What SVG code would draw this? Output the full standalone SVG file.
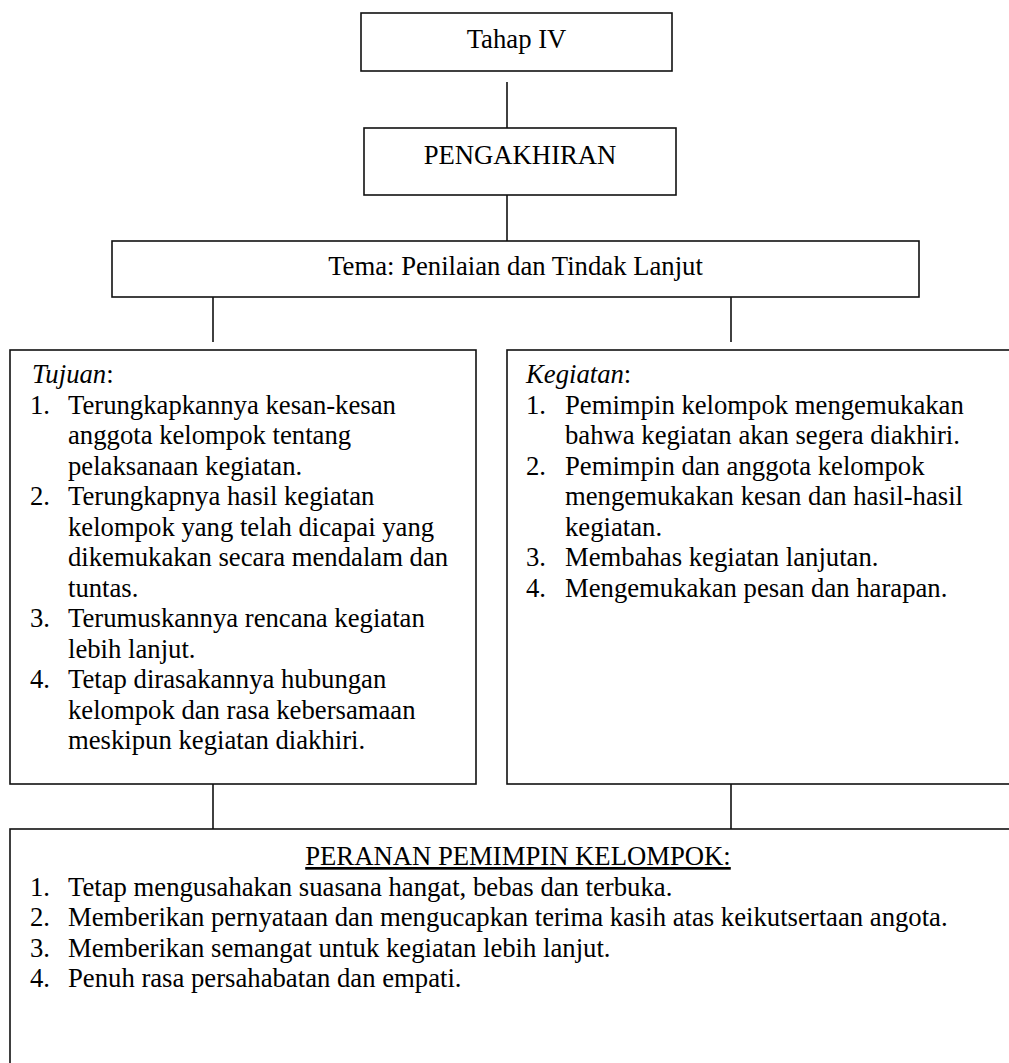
<svg xmlns="http://www.w3.org/2000/svg" width="1009" height="1063" viewBox="0 0 1009 1063">
<style>
.box{fill:#fff;stroke:#111;stroke-width:1.6}
.ln{stroke:#111;stroke-width:1.6;fill:none}
text{font-family:"Liberation Serif","Times New Roman",serif;font-size:26.7px;fill:#000}
.c{text-anchor:middle}
.i{font-style:italic}
</style>
<rect width="1009" height="1063" fill="#fff"/>
<g id="connectors">
<line class="ln" x1="507" y1="82" x2="507" y2="128"/>
<line class="ln" x1="507" y1="195" x2="507" y2="241"/>
<line class="ln" x1="213" y1="297" x2="213" y2="342"/>
<line class="ln" x1="731" y1="297" x2="731" y2="342"/>
<line class="ln" x1="213" y1="784" x2="213" y2="829"/>
<line class="ln" x1="731" y1="784" x2="731" y2="829"/>
</g>
<g id="tahap">
<rect class="box" x="361" y="13" width="311" height="58"/>
<text class="c" x="516.5" y="48">Tahap IV</text>
</g>
<g id="pengakhiran">
<rect class="box" x="364" y="128" width="312" height="67"/>
<text class="c" x="520" y="163.5">PENGAKHIRAN</text>
</g>
<g id="tema">
<rect class="box" x="112" y="241" width="807" height="56"/>
<text class="c" x="515.5" y="275">Tema: Penilaian dan Tindak Lanjut</text>
</g>
<g id="tujuan">
<rect class="box" x="10" y="350" width="466" height="434"/>
<text x="32" y="383"><tspan class="i">Tujuan</tspan>:</text>
<text x="30" y="413.5">1.</text><text x="68" y="413.5">Terungkapkannya kesan-kesan</text>
<text x="68" y="444">anggota kelompok tentang</text>
<text x="68" y="474.5">pelaksanaan kegiatan.</text>
<text x="30" y="505">2.</text><text x="68" y="505">Terungkapnya hasil kegiatan</text>
<text x="68" y="535.5">kelompok yang telah dicapai yang</text>
<text x="68" y="566">dikemukakan secara mendalam dan</text>
<text x="68" y="596.5">tuntas.</text>
<text x="30" y="627">3.</text><text x="68" y="627">Terumuskannya rencana kegiatan</text>
<text x="68" y="657.5">lebih lanjut.</text>
<text x="30" y="688">4.</text><text x="68" y="688">Tetap dirasakannya hubungan</text>
<text x="68" y="718.5">kelompok dan rasa kebersamaan</text>
<text x="68" y="749">meskipun kegiatan diakhiri.</text>
</g>
<g id="kegiatan">
<rect class="box" x="507" y="350" width="520" height="434"/>
<text x="526" y="383"><tspan class="i">Kegiatan</tspan>:</text>
<text x="526" y="413.5">1.</text><text x="565" y="413.5">Pemimpin kelompok mengemukakan</text>
<text x="565" y="444">bahwa kegiatan akan segera diakhiri.</text>
<text x="526" y="474.5">2.</text><text x="565" y="474.5">Pemimpin dan anggota kelompok</text>
<text x="565" y="505">mengemukakan kesan dan hasil-hasil</text>
<text x="565" y="535.5">kegiatan.</text>
<text x="526" y="566">3.</text><text x="565" y="566">Membahas kegiatan lanjutan.</text>
<text x="526" y="596.5">4.</text><text x="565" y="596.5">Mengemukakan pesan dan harapan.</text>
</g>
<g id="peranan">
<rect class="box" x="10" y="829" width="1017" height="260"/>
<text class="c" x="518" y="865" text-decoration="underline">PERANAN PEMIMPIN KELOMPOK:</text>
<text x="30" y="895.5">1.</text><text x="68" y="895.5">Tetap mengusahakan suasana hangat, bebas dan terbuka.</text>
<text x="30" y="926">2.</text><text x="68" y="926">Memberikan pernyataan dan mengucapkan terima kasih atas keikutsertaan angota.</text>
<text x="30" y="956.5">3.</text><text x="68" y="956.5">Memberikan semangat untuk kegiatan lebih lanjut.</text>
<text x="30" y="987">4.</text><text x="68" y="987">Penuh rasa persahabatan dan empati.</text>
</g>
</svg>
